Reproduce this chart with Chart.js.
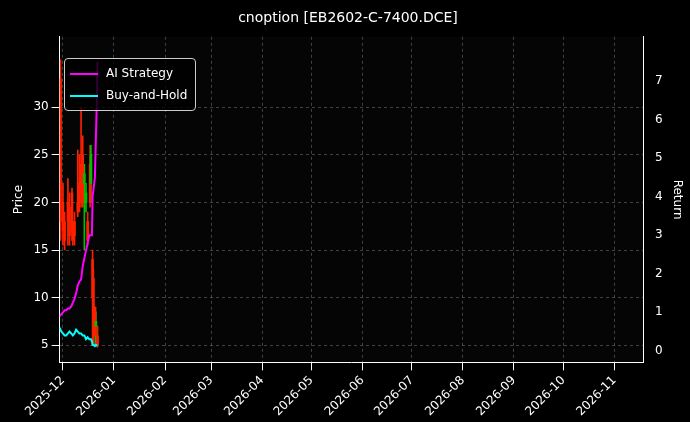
<!DOCTYPE html><html><head><script src="https://cdn.jsdelivr.net/npm/chart.js@4"></script>
<style>body{margin:0;background:#000;}#w{position:relative;width:690px;height:422px;}
#lg{position:absolute;left:64px;top:58px;border:1px solid #ccc;border-radius:4px;background:rgba(0,0,0,0.8);color:#fff;font:12px "DejaVu Sans";padding:3px 8px 4px 5px;line-height:22px}
#lg span{display:inline-block;width:28px;height:0;border-top:2.5px solid;vertical-align:middle;margin-right:8px}</style></head>
<body><div id="w"><canvas id="c" width="690" height="422"></canvas>
<div id="lg"><div><span style="border-color:#ff00ff"></span>AI Strategy</div><div><span style="border-color:#00ffff"></span>Buy-and-Hold</div></div></div>
<script>
const candleDays=[-1.5,0,1,3,4,5.5,6,7,9,10,11,12,13,14,15,16.5,17,18,18.5,19.5,20,21];
const opens =[33,20,18,20,19.5,21,17,18,20,22,24,25,22,20,18,24,22,14,12,9,7,6];
const closes=[18,17,16,18,16.5,17,16,16.5,19,20,21,20,23,21,16,20,25,10,8,6,7.5,5];
const highs =[35,22,19,22.5,21,21.5,18,19,25.5,25,30,27,24,22,19,26,26,15,13,9,8.5,7];
const lows  =[16,15.5,15,15.5,15.5,16,15.5,15.5,18.5,19,19.5,19.5,15,19,15.5,19.5,20,5,5,5,5,4.8];
const retDays=[-2,-1,0,1,2,3,4,5,6,7,8,9,10,11,12,13,14,15,16,17,17.6,18,18.6,19.4,20,20.6,21];
const aiRet=[0.9,0.95,1.0,1.05,1.05,1.1,1.1,1.15,1.25,1.35,1.5,1.7,1.8,1.85,2.2,2.4,2.6,2.8,3.0,3.0,3.0,4.0,4.2,4.5,5.5,6.5,7.5];
const bhRet=[0.6,0.5,0.45,0.4,0.4,0.45,0.5,0.45,0.4,0.45,0.55,0.5,0.45,0.45,0.4,0.4,0.3,0.35,0.3,0.3,0.25,0.15,0.15,0.12,0.15,0.14,0.14];
const monthLabels=['2025-12','2026-01','2026-02','2026-03','2026-04','2026-05','2026-06','2026-07','2026-08','2026-09','2026-10','2026-11'];
const monthDays=[0,31,62,90,121,151,182,212,243,274,304,335];
const col=candleDays.map((d,i)=>closes[i]>=opens[i]?'#00c000':'#ff2000');
const grid={color:'rgba(140,140,140,0.45)',drawTicks:true,tickColor:'#fff'};
const bord={color:'#fff',dash:[3,3]};
Chart.defaults.font.family='DejaVu Sans';Chart.defaults.color='#fff';
new Chart(document.getElementById('c'),{type:'bar',data:{datasets:[
{type:'line',label:'AI Strategy',data:retDays.map((d,i)=>({x:d,y:aiRet[i]})),borderColor:'#ff00ff',borderWidth:2,pointRadius:0,yAxisID:'y2',order:0},
{type:'line',label:'Buy-and-Hold',data:retDays.map((d,i)=>({x:d,y:bhRet[i]})),borderColor:'#00ffff',borderWidth:2,pointRadius:0,yAxisID:'y2',order:0},
{label:'wick',data:candleDays.map((d,i)=>({x:d,y:[lows[i],highs[i]]})),backgroundColor:col,barThickness:1,grouped:false,yAxisID:'y',order:2},
{label:'body',data:candleDays.map((d,i)=>({x:d,y:[opens[i],closes[i]]})),backgroundColor:col,barThickness:2,grouped:false,yAxisID:'y',order:1}
]},options:{responsive:false,animation:false,
layout:{padding:{left:8,right:2,top:4,bottom:0}},
plugins:{legend:{display:false},title:{display:true,text:'cnoption [EB2602-C-7400.DCE]',font:{size:14,weight:'normal'},padding:{top:6,bottom:10}},tooltip:{enabled:false}},
scales:{x:{type:'linear',offset:false,min:-2,max:353,grid:{...grid,offset:false},border:bord,
afterBuildTicks:a=>{a.ticks=monthDays.map(v=>({value:v}));},
ticks:{autoSkip:false,maxRotation:45,minRotation:45,callback:(v)=>monthLabels[monthDays.indexOf(v)]??''}},
y:{position:'left',min:3.2,max:37.4,grid:grid,border:bord,title:{display:true,text:'Price'},
afterBuildTicks:a=>{a.ticks=[5,10,15,20,25,30].map(v=>({value:v}));}},
y2:{position:'right',min:-0.3,max:8.15,grid:{display:false},border:{color:'#fff'},title:{display:true,text:'Return'},
afterBuildTicks:a=>{a.ticks=[0,1,2,3,4,5,6,7].map(v=>({value:v}));}}}},
plugins:[{id:'bg',beforeDraw:c=>{const x=c.ctx;x.save();x.fillStyle='#000';x.fillRect(0,0,c.width,c.height);x.fillStyle='#050505';const a=c.chartArea;x.fillRect(a.left,a.top,a.width,a.height);x.restore();}}]});
</script></body></html>
